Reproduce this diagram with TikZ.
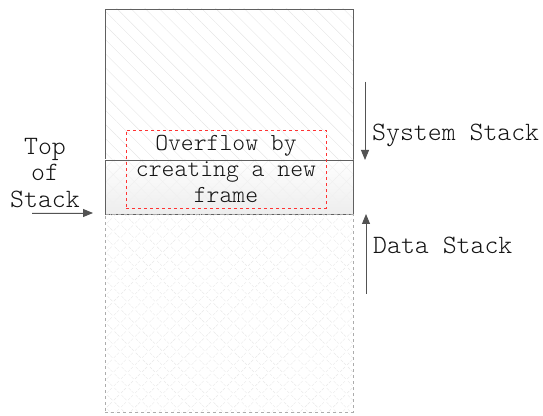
\documentclass[tikz,border=0pt]{standalone}
\usepackage{fontspec}
\setmonofont{Latin Modern Mono Light}
\usetikzlibrary{arrows.meta, positioning, patterns.meta}

\begin{document}
\begin{tikzpicture}[
    x=1pt, y=1pt,
    block/.style={draw=gray!75!black, line width=0.8pt, inner sep=0pt,
                  minimum width=248pt},
    lbl/.style={font=\ttfamily\fontsize{26.5}{26.5}\selectfont, text=black!92,
                align=center, inner sep=0pt},
    growth/.style={-{Triangle[width=8pt, length=10pt]}, line width=0.9pt,
                   draw=gray!65!black, fill=gray!65!black},
]
\useasboundingbox (0,0) rectangle (543,415);
% the three regions of the stack
\node[block, minimum height=151pt,
      pattern={Lines[angle=-45, distance=10pt, line width=0.4pt]},
      pattern color=gray!20] (sys) at (229,330.5) {};
\node[block, minimum height=54pt,
      preaction={top color=white, bottom color=gray!14},
      pattern={Hatch[angle=45, distance=10pt, line width=0.4pt]},
      pattern color=gray!12] (frame) at (229,228) {};
\node[block, draw=gray!65, dashed, minimum height=198pt,
      pattern={Hatch[angle=45, distance=10pt, line width=0.4pt]},
      pattern color=gray!18] (data) at (229,102) {};
% overflowing frame
\node[draw=red!80, dashed, line width=0.7pt, minimum width=200pt,
      minimum height=78pt, inner sep=0pt] (over) at (226,246) {};
\node[lbl, font=\ttfamily\fontsize{24.5}{26}\selectfont] (overtxt)
     at (over.center) {Overflow by\\creating a new\\frame};
% labels and arrows
\node[lbl] (tos) at (45,242) {Top\\of\\Stack};
\coordinate (tosstart) at (32,202);
\coordinate (tosend) at (93,202);
\draw[growth] (tosstart) -- (tosend);
\coordinate (sysstart) at (365,333);
\coordinate (sysend) at (365,255);
\draw[growth] (sysstart) -- (sysend);
\coordinate (datastart) at (366,121);
\coordinate (dataend) at (366,201);
\draw[growth] (datastart) -- (dataend);
\node[lbl, anchor=west] (syslbl) at (372,280) {System Stack};
\node[lbl, anchor=west] (datalbl) at (373,170) {Data Stack};
\end{tikzpicture}
\end{document}
